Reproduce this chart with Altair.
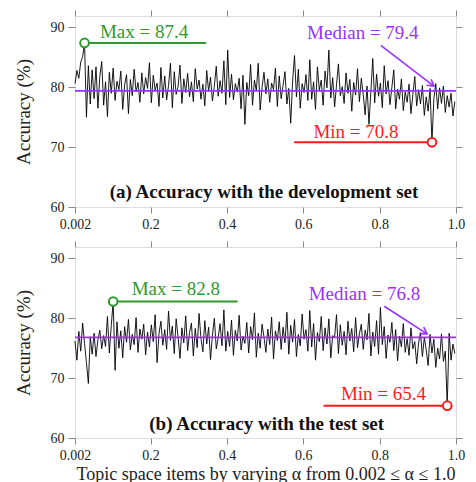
import math
import altair as alt
import pandas as pd

# ---------------- data ----------------
alpha = [round(0.002 + 0.005 * i, 3) for i in range(200)]

dev_acc = [
    80.6, 82.8, 81.5, 84.2, 85.1, 87.4, 75.0, 83.6, 77.2, 82.9,
    78.1, 83.4, 76.5, 81.8, 84.3, 77.0, 80.9, 75.1, 82.5, 79.0,
    83.2, 77.8, 81.0, 79.6, 82.7, 76.3, 80.4, 82.1, 75.6, 81.3,
    78.6, 83.0, 79.2, 80.8, 77.5, 82.4, 78.9, 81.6, 79.8, 84.1,
    77.4, 82.0, 79.5, 80.7, 76.8, 83.3, 78.2, 81.9, 77.9, 80.3,
    84.0, 76.6, 82.6, 78.8, 80.1, 83.7, 77.3, 81.4, 79.1, 82.3,
    78.4, 80.9, 77.6, 83.1, 79.7, 81.2, 78.0, 80.5, 76.9, 82.8,
    79.3, 81.7, 77.7, 80.2, 83.5, 78.5, 81.1, 79.0, 84.4, 77.1,
    86.2, 78.3, 82.2, 77.9, 80.6, 79.2, 81.5, 76.4, 82.0, 73.8,
    80.8, 78.6, 83.8, 77.0, 81.2, 79.4, 84.0, 76.2, 80.0, 82.5,
    78.9, 81.4, 77.5, 80.7, 79.6, 83.2, 76.8, 81.9, 78.1, 80.3,
    82.6, 77.2, 79.8, 74.0, 81.0, 85.3, 78.4, 83.0, 76.5, 80.6,
    79.1, 82.1, 77.8, 84.6, 78.0, 80.9, 76.3, 83.4, 79.5, 81.2,
    77.0, 82.7, 79.9, 86.2, 78.2, 81.6, 76.7, 80.4, 83.9, 78.6,
    80.1, 77.3, 82.4, 79.0, 81.3, 76.0, 80.8, 78.7, 83.1, 77.6,
    81.5, 78.8, 75.4, 80.2, 73.8, 79.3, 84.8, 77.4, 82.2, 78.5,
    80.7, 76.6, 83.6, 78.9, 81.1, 77.1, 80.0, 82.9, 76.4, 79.7,
    78.0, 81.4, 76.1, 79.2, 77.5, 80.5, 75.6, 78.8, 81.8, 76.9,
    79.6, 77.2, 80.3, 75.3, 78.4, 76.0, 79.8, 70.8, 78.1, 80.6,
    76.4, 79.9, 77.3, 80.2, 75.8, 78.6, 76.7, 79.0, 75.2, 77.6,
]

test_acc = [
    76.2, 73.0, 77.8, 74.5, 79.2, 75.8, 72.6, 69.1, 76.9, 74.0,
    77.5, 73.6, 76.4, 78.0, 74.9, 77.1, 75.3, 80.3, 74.2, 78.8,
    82.8, 71.3, 79.4, 75.0, 77.9, 73.4, 78.6, 76.0, 79.8, 74.7,
    77.3, 75.6, 80.1, 74.3, 78.2, 76.5, 79.0, 73.9, 77.7, 75.2,
    78.9, 76.1, 80.6, 72.6, 77.4, 79.5, 75.5, 78.1, 74.8, 81.2,
    76.3, 78.7, 74.1, 79.9, 76.8, 73.3, 78.4, 75.9, 80.4, 74.6,
    77.6, 79.2, 73.7, 78.3, 75.1, 80.8, 76.6, 74.4, 79.6, 75.7,
    78.5, 73.1, 77.2, 80.0, 74.9, 76.7, 79.1, 75.4, 81.4, 74.5,
    77.8, 75.3, 79.7, 73.8, 78.0, 76.2, 80.5, 74.7, 77.0, 75.8,
    79.3, 74.2, 78.6, 76.4, 80.9, 73.5, 77.5, 75.0, 79.0, 76.9,
    74.3, 78.2, 75.6, 80.2, 73.2, 77.9, 76.3, 79.4, 74.8, 78.5,
    75.9, 81.0, 74.0, 78.8, 76.0, 79.8, 73.6, 77.3, 75.4, 80.7,
    76.5, 78.1, 74.5, 81.3, 75.2, 79.1, 73.0, 77.6, 76.1, 80.3,
    74.6, 78.4, 75.7, 79.9, 73.4, 77.1, 76.8, 80.6, 74.1, 78.9,
    75.5, 77.8, 73.9, 79.5, 76.2, 78.3, 74.4, 80.1, 75.1, 77.4,
    79.0, 74.8, 78.0, 76.4, 80.8, 73.7, 77.7, 75.3, 79.6, 74.0,
    81.8, 75.6, 78.6, 73.3, 77.2, 76.0, 79.3, 74.6, 78.1, 72.9,
    77.0, 75.2, 79.1, 74.3, 76.6, 73.8, 78.4, 74.9, 76.1, 72.4,
    75.9, 77.6, 73.6, 76.8, 74.7, 72.1, 77.3, 74.2, 76.5, 71.8,
    75.0, 73.2, 77.4, 72.8, 74.5, 65.4, 77.5, 73.0, 75.7, 74.1,
]

x_ticks = [0.002, 0.2, 0.4, 0.6, 0.8, 1.0]
y_ticks = [60, 70, 80, 90]

# annotation values: [max alpha, max, median, min alpha, min]
dev_stats = [0.027, 87.4, 79.4, 0.937, 70.8]
test_stats = [0.102, 82.8, 76.8, 0.977, 65.4]

dev_texts = ["Max = 87.4", "Median = 79.4", "Min = 70.8", "(a) Accuracy with the development set"]
test_texts = ["Max = 82.8", "Median = 76.8", "Min = 65.4", "(b) Accuracy with the test set"]

# annotation anchor positions (alpha, accuracy)
dev_pos = {
    "max_text": (0.183, 88.3), "max_line_end": 0.345,
    "med_text": (0.756, 88.0), "arrow": (0.803, 87.0, 0.942, 80.2),
    "min_text": (0.738, 71.55), "min_line_start": 0.576,
    "title": (0.497, 61.5),
}
test_pos = {
    "max_text": (0.266, 83.9), "max_line_end": 0.428,
    "med_text": (0.760, 83.0), "arrow": (0.812, 82.0, 0.924, 77.4),
    "min_text": (0.810, 66.33), "min_line_start": 0.653,
    "title": (0.504, 61.33),
}

x_title = "Topic space items by varying α from 0.002 ≤ α ≤ 1.0"
y_title = "Accuracy (%)"

# ---------------- style ----------------
FONT = "Liberation Serif"
GREEN = "#2E9A2E"
RED = "#FF1A1A"
PURPLE = "#9B30FF"
W, H = 381, 191
XDOM = [0.002, 1.0]
YDOM = [60, 91.9]


def panel(acc, stats, texts, pos, show_xtitle):
    xs = alt.Scale(domain=XDOM, nice=False, zero=False)
    ys = alt.Scale(domain=YDOM, nice=False, zero=False)
    df = pd.DataFrame({"alpha": alpha, "acc": acc})

    xaxis_kw = dict(values=x_ticks,
                    labelExpr="datum.value == 0.002 ? '0.002' : format(datum.value, '.1f')",
                    tickSize=6, labelPadding=4, labelFontSize=14, labelFont=FONT,
                    labelColor="#222", tickColor="#888", domain=False, grid=False,
                    labelFlush=False, labelOverlap=False,
                    titleFont=FONT, titleFontSize=18, titleFontWeight="normal",
                    titleColor="#222", titlePadding=3)
    if show_xtitle:
        xaxis = alt.Axis(title=x_title, **xaxis_kw)
    else:
        xaxis = alt.Axis(title=None, **xaxis_kw)
    yaxis = alt.Axis(values=y_ticks, tickSize=7, labelPadding=4, labelFontSize=14,
                     labelFont=FONT, labelColor="#222", tickColor="#888", domain=False,
                     grid=False, title=y_title, titleFont=FONT, titleFontSize=19,
                     titleFontWeight="normal", titleColor="#222", titlePadding=17)

    line = alt.Chart(df).mark_line(color="black", strokeWidth=0.9).encode(
        x=alt.X("alpha:Q", scale=xs, axis=xaxis),
        y=alt.Y("acc:Q", scale=ys, axis=yaxis),
    )
    mirror = alt.Chart(df).mark_line(opacity=0).encode(
        x=alt.X("alpha:Q", scale=xs,
                axis=alt.Axis(orient="top", values=x_ticks, labels=False, title=None,
                              tickSize=6, tickColor="#888", domain=False, grid=False)),
        y=alt.Y("acc:Q", scale=ys,
                axis=alt.Axis(orient="right", values=y_ticks, labels=False, title=None,
                              tickSize=6, tickColor="#888", domain=False, grid=False)),
    )

    def X(f):
        return alt.X(f, scale=xs, axis=None)

    def Y(f):
        return alt.Y(f, scale=ys, axis=None)

    mxa, mx, med, mna, mn = stats

    median = alt.Chart(pd.DataFrame({"y": [med]})).mark_rule(
        color=PURPLE, strokeWidth=1.6).encode(y=Y("y:Q"))

    gline = alt.Chart(pd.DataFrame({"x": [mxa], "x2": [pos["max_line_end"]], "y": [mx]})).mark_rule(
        color=GREEN, strokeWidth=2).encode(x=X("x:Q"), x2="x2:Q", y=Y("y:Q"))
    gpt = alt.Chart(pd.DataFrame({"x": [mxa], "y": [mx]})).mark_point(
        shape="circle", size=75, fill="white", fillOpacity=1, stroke=GREEN,
        strokeWidth=2, opacity=1).encode(x=X("x:Q"), y=Y("y:Q"))
    gtxt = alt.Chart(pd.DataFrame({"x": [pos["max_text"][0]], "y": [pos["max_text"][1]], "t": [texts[0]]})).mark_text(
        font=FONT, fontSize=19, color=GREEN, baseline="alphabetic", align="center").encode(
        x=X("x:Q"), y=Y("y:Q"), text="t:N")

    rline = alt.Chart(pd.DataFrame({"x": [pos["min_line_start"]], "x2": [mna], "y": [mn]})).mark_rule(
        color=RED, strokeWidth=2).encode(x=X("x:Q"), x2="x2:Q", y=Y("y:Q"))
    rpt = alt.Chart(pd.DataFrame({"x": [mna], "y": [mn]})).mark_point(
        shape="circle", size=75, fill="white", fillOpacity=1, stroke=RED,
        strokeWidth=2, opacity=1).encode(x=X("x:Q"), y=Y("y:Q"))
    rtxt = alt.Chart(pd.DataFrame({"x": [pos["min_text"][0]], "y": [pos["min_text"][1]], "t": [texts[2]]})).mark_text(
        font=FONT, fontSize=19, color=RED, baseline="alphabetic", align="center").encode(
        x=X("x:Q"), y=Y("y:Q"), text="t:N")

    ptxt = alt.Chart(pd.DataFrame({"x": [pos["med_text"][0]], "y": [pos["med_text"][1]], "t": [texts[1]]})).mark_text(
        font=FONT, fontSize=19, color=PURPLE, baseline="alphabetic", align="center").encode(
        x=X("x:Q"), y=Y("y:Q"), text="t:N")
    ax1, ay1, ax2, ay2 = pos["arrow"]
    arrow = alt.Chart(pd.DataFrame({"x": [ax1], "y": [ay1], "x2": [ax2], "y2": [ay2]})).mark_rule(
        color=PURPLE, strokeWidth=1.6).encode(x=X("x:Q"), x2="x2:Q", y=Y("y:Q"), y2="y2:Q")
    dxp = (ax2 - ax1) * W / (XDOM[1] - XDOM[0])
    dyp = (ay1 - ay2) * H / (YDOM[1] - YDOM[0])
    ang = math.degrees(math.atan2(dyp, dxp)) % 360
    head = alt.Chart(pd.DataFrame({"x": [ax2], "y": [ay2]})).mark_point(
        shape="M -1 -0.6 L 0 0 L -1 0.6", size=160, filled=False, color=PURPLE,
        strokeWidth=1.6, opacity=1, angle=ang).encode(x=X("x:Q"), y=Y("y:Q"))

    title = alt.Chart(pd.DataFrame({"x": [pos["title"][0]], "y": [pos["title"][1]], "t": [texts[3]]})).mark_text(
        font=FONT, fontSize=19, fontWeight="bold", color="#111", baseline="alphabetic",
        align="center").encode(x=X("x:Q"), y=Y("y:Q"), text="t:N")

    return alt.layer(line, mirror, median, gline, gpt, gtxt, rline, rpt, rtxt,
                     ptxt, arrow, head, title).resolve_axis(
        x="independent", y="independent").properties(width=W, height=H)


top = panel(dev_acc, dev_stats, dev_texts, dev_pos, False)
bottom = panel(test_acc, test_stats, test_texts, test_pos, True)

chart = alt.vconcat(top, bottom, spacing=8).properties(
    padding={"left": 5, "top": 1, "right": 0, "bottom": 0}
).configure_view(stroke="black", strokeWidth=1.2).configure(background="white")

chart.save("out.html", embed_options={"renderer": "svg", "actions": False})
